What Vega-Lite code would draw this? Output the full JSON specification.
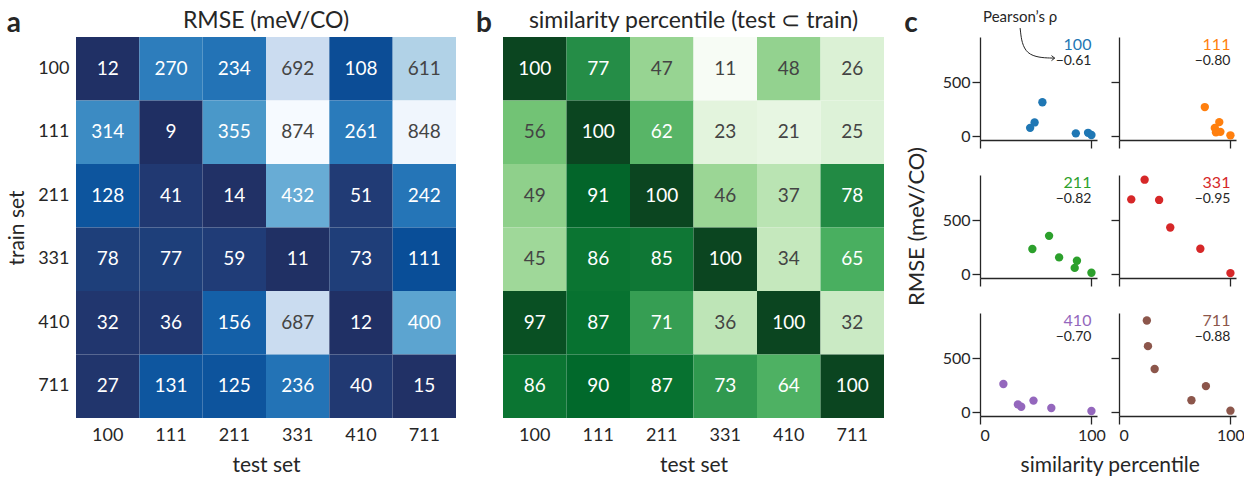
{
  "$schema": "https://vega.github.io/schema/vega-lite/v6.json",
  "padding": {"left": 6, "top": 10, "right": 0, "bottom": 0},
  "background": "white",
  "datasets": {
    "cells": [
      {"train": "100", "test": "100", "rmse": 12, "sim": 100},
      {"train": "100", "test": "111", "rmse": 270, "sim": 77},
      {"train": "100", "test": "211", "rmse": 234, "sim": 47},
      {"train": "100", "test": "331", "rmse": 692, "sim": 11},
      {"train": "100", "test": "410", "rmse": 108, "sim": 48},
      {"train": "100", "test": "711", "rmse": 611, "sim": 26},
      {"train": "111", "test": "100", "rmse": 314, "sim": 56},
      {"train": "111", "test": "111", "rmse": 9, "sim": 100},
      {"train": "111", "test": "211", "rmse": 355, "sim": 62},
      {"train": "111", "test": "331", "rmse": 874, "sim": 23},
      {"train": "111", "test": "410", "rmse": 261, "sim": 21},
      {"train": "111", "test": "711", "rmse": 848, "sim": 25},
      {"train": "211", "test": "100", "rmse": 128, "sim": 49},
      {"train": "211", "test": "111", "rmse": 41, "sim": 91},
      {"train": "211", "test": "211", "rmse": 14, "sim": 100},
      {"train": "211", "test": "331", "rmse": 432, "sim": 46},
      {"train": "211", "test": "410", "rmse": 51, "sim": 37},
      {"train": "211", "test": "711", "rmse": 242, "sim": 78},
      {"train": "331", "test": "100", "rmse": 78, "sim": 45},
      {"train": "331", "test": "111", "rmse": 77, "sim": 86},
      {"train": "331", "test": "211", "rmse": 59, "sim": 85},
      {"train": "331", "test": "331", "rmse": 11, "sim": 100},
      {"train": "331", "test": "410", "rmse": 73, "sim": 34},
      {"train": "331", "test": "711", "rmse": 111, "sim": 65},
      {"train": "410", "test": "100", "rmse": 32, "sim": 97},
      {"train": "410", "test": "111", "rmse": 36, "sim": 87},
      {"train": "410", "test": "211", "rmse": 156, "sim": 71},
      {"train": "410", "test": "331", "rmse": 687, "sim": 36},
      {"train": "410", "test": "410", "rmse": 12, "sim": 100},
      {"train": "410", "test": "711", "rmse": 400, "sim": 32},
      {"train": "711", "test": "100", "rmse": 27, "sim": 86},
      {"train": "711", "test": "111", "rmse": 131, "sim": 90},
      {"train": "711", "test": "211", "rmse": 125, "sim": 87},
      {"train": "711", "test": "331", "rmse": 236, "sim": 73},
      {"train": "711", "test": "410", "rmse": 40, "sim": 64},
      {"train": "711", "test": "711", "rmse": 15, "sim": 100}
    ],
    "rho": [
      {"test": "100", "rho": -0.61},
      {"test": "111", "rho": -0.80},
      {"test": "211", "rho": -0.82},
      {"test": "331", "rho": -0.95},
      {"test": "410", "rho": -0.70},
      {"test": "711", "rho": -0.88}
    ],
    "arrow": [
      {"step": 1, "sim": 36, "rmse": 1000},
      {"step": 2, "sim": 39, "rmse": 731},
      {"step": 3, "sim": 67, "rmse": 722}
    ]
  },
  "spacing": 20,
  "hconcat": [
    {
      "title": {"text": "a", "anchor": "start", "fontSize": 28, "fontWeight": "bold", "dy": 32, "dx": 0},
      "vconcat": [
        {
          "width": 380,
          "height": 381,
          "title": {"text": "RMSE (meV/CO)", "fontSize": 23, "fontWeight": "normal", "offset": 4},
          "data": {"name": "cells"},
          "encoding": {
            "x": {"field": "test", "type": "nominal", "sort": ["100", "111", "211", "331", "410", "711"],
                  "scale": {"paddingInner": 0, "paddingOuter": 0},
                  "axis": {"title": "test set", "labelAngle": 0, "ticks": false, "domain": false, "labelPadding": 8, "titlePadding": 10, "labelFontSize": 18, "titleFontSize": 21}},
            "y": {"field": "train", "type": "nominal", "sort": ["100", "111", "211", "331", "410", "711"],
                  "scale": {"paddingInner": 0, "paddingOuter": 0},
                  "axis": {"title": "train set", "ticks": false, "domain": false, "labelPadding": 7, "titlePadding": 10, "labelFontSize": 18, "titleFontSize": 21}}
          },
          "layer": [
            {
              "mark": {"type": "rect"},
              "encoding": {
                "color": {"field": "rmse", "type": "quantitative", "legend": null,
                  "scale": {"domain": [9, 14, 45, 78, 110, 156, 240, 355, 432, 611, 690, 874],
                            "range": ["#1f2f63", "#213166", "#213a74", "#1e3f7a", "#094e98", "#1460a8", "#2474b7", "#4a98c9", "#68acd5", "#b1d2e7", "#cbdcf0", "#f6faff"]}}
              }
            },
            {
              "mark": {"type": "text", "fontSize": 19},
              "encoding": {
                "text": {"field": "rmse", "type": "quantitative"},
                "color": {"condition": {"test": "datum.rmse < 500", "value": "#ffffff"}, "value": "#444444"}
              }
            }
          ]
        }
      ]
    },
    {
      "title": {"text": "b", "anchor": "start", "fontSize": 28, "fontWeight": "bold", "dy": 32, "dx": -27},
      "vconcat": [
        {
          "width": 381,
          "height": 381,
          "title": {"text": "similarity percentile (test ⊂ train)", "fontSize": 23, "fontWeight": "normal", "offset": 4},
          "data": {"name": "cells"},
          "encoding": {
            "x": {"field": "test", "type": "nominal", "sort": ["100", "111", "211", "331", "410", "711"],
                  "scale": {"paddingInner": 0, "paddingOuter": 0},
                  "axis": {"title": "test set", "labelAngle": 0, "ticks": false, "domain": false, "labelPadding": 8, "titlePadding": 10, "labelFontSize": 18, "titleFontSize": 21}},
            "y": {"field": "train", "type": "nominal", "sort": ["100", "111", "211", "331", "410", "711"],
                  "scale": {"paddingInner": 0, "paddingOuter": 0},
                  "axis": null}
          },
          "layer": [
            {
              "mark": {"type": "rect"},
              "encoding": {
                "color": {"field": "sim", "type": "quantitative", "legend": null,
                  "scale": {"domain": [11, 22.125, 33.25, 44.375, 55.5, 66.625, 77.75, 88.875, 100],
                            "range": ["#f7fcf5", "#e5f5e0", "#c7e9c0", "#a1d99b", "#74c476", "#41ab5d", "#238b45", "#006d2c", "#0b4520"]}}
              }
            },
            {
              "mark": {"type": "text", "fontSize": 19},
              "encoding": {
                "text": {"field": "sim", "type": "quantitative"},
                "color": {"condition": {"test": "datum.sim > 58", "value": "#ffffff"}, "value": "#444444"}
              }
            }
          ]
        }
      ]
    },
    {
      "title": {"text": "c", "anchor": "start", "fontSize": 28, "fontWeight": "bold", "dy": 32, "dx": -2},
      "vconcat": [
        {
          "title": {"text": "similarity percentile", "orient": "bottom", "fontSize": 21, "fontWeight": "normal", "anchor": "middle", "offset": 12, "dx": 35},
          "vconcat": [
            {
              "title": {"text": "RMSE (meV/CO)", "orient": "left", "fontSize": 22, "fontWeight": "normal", "anchor": "middle", "offset": 13},
              "columns": 2,
              "spacing": {"row": 26, "column": 4},
              "concat": [
                {
                  "width": 117, "height": 103,
                  "layer": [
                    {
                      "data": {"name": "cells"},
                      "transform": [{"filter": "datum.test === '100'"}],
                      "mark": {"type": "circle", "size": 70, "opacity": 1},
                      "encoding": {
                        "x": {"field": "sim", "type": "quantitative", "scale": {"domain": [0, 105], "nice": false, "zero": false},
                              "axis": {"values": [0, 100], "labels": false, "title": null, "tickSize": 8}},
                        "y": {"field": "rmse", "type": "quantitative", "scale": {"domain": [-34.25, 917.25], "nice": false, "zero": false},
                              "axis": {"values": [0, 500], "labels": true, "title": null, "tickSize": 8, "labelFontSize": 16, "labelPadding": 2}},
                        "color": {"field": "test", "type": "nominal", "legend": null,
                                  "scale": {"domain": ["100", "111", "211", "331", "410", "711"], "range": ["#1f77b4", "#ff7f0e", "#2ca02c", "#d62728", "#9467bd", "#8c564b"]}}
                      }
                    },
                    {
                      "data": {"name": "rho"},
                      "transform": [{"filter": "datum.test === '100'"}],
                      "mark": {"type": "text", "align": "right", "baseline": "top", "fontSize": 16},
                      "encoding": {
                        "x": {"datum": 100, "type": "quantitative"},
                        "y": {"datum": 917.25, "type": "quantitative"},
                        "text": {"field": "test"},
                        "color": {"field": "test", "type": "nominal", "legend": null,
                                  "scale": {"domain": ["100", "111", "211", "331", "410", "711"], "range": ["#1f77b4", "#ff7f0e", "#2ca02c", "#d62728", "#9467bd", "#8c564b"]}}
                      }
                    },
                    {
                      "data": {"name": "rho"},
                      "transform": [{"filter": "datum.test === '100'"}],
                      "mark": {"type": "text", "align": "right", "baseline": "top", "fontSize": 14, "dy": 17, "color": "#262626"},
                      "encoding": {
                        "x": {"datum": 100, "type": "quantitative"},
                        "y": {"datum": 917.25, "type": "quantitative"},
                        "text": {"field": "rho", "type": "quantitative", "format": ".2f"}
                      }
                    },
                    {
                      "data": {"name": "rho"},
                      "transform": [{"filter": "datum.test === '100'"}],
                      "mark": {"type": "text", "align": "center", "baseline": "middle", "fontSize": 15, "color": "#262626"},
                      "encoding": {
                        "x": {"datum": 36, "type": "quantitative"},
                        "y": {"datum": 1100, "type": "quantitative"},
                        "text": {"value": "Pearson’s ρ"}
                      }
                    },
                    {
                      "data": {"name": "arrow"},
                      "mark": {"type": "line", "interpolate": "basis", "color": "#262626", "strokeWidth": 1},
                      "encoding": {
                        "x": {"field": "sim", "type": "quantitative"},
                        "y": {"field": "rmse", "type": "quantitative"},
                        "order": {"field": "step", "type": "quantitative"}
                      }
                    },
                    {
                      "data": {"name": "arrow"},
                      "transform": [{"filter": "datum.step === 3"}],
                      "mark": {"type": "point", "shape": "M-1,-0.8L0,0L-1,0.8", "filled": false, "size": 40, "color": "#262626", "strokeWidth": 1, "opacity": 1},
                      "encoding": {
                        "x": {"field": "sim", "type": "quantitative"},
                        "y": {"field": "rmse", "type": "quantitative"}
                      }
                    }
                  ]
                },
                {
                  "width": 117, "height": 103,
                  "layer": [
                    {
                      "data": {"name": "cells"},
                      "transform": [{"filter": "datum.test === '111'"}],
                      "mark": {"type": "circle", "size": 70, "opacity": 1},
                      "encoding": {
                        "x": {"field": "sim", "type": "quantitative", "scale": {"domain": [0, 105], "nice": false, "zero": false},
                              "axis": {"values": [0, 100], "labels": false, "title": null, "tickSize": 8}},
                        "y": {"field": "rmse", "type": "quantitative", "scale": {"domain": [-34.25, 917.25], "nice": false, "zero": false},
                              "axis": {"values": [0, 500], "labels": false, "title": null, "tickSize": 8}},
                        "color": {"field": "test", "type": "nominal", "legend": null,
                                  "scale": {"domain": ["100", "111", "211", "331", "410", "711"], "range": ["#1f77b4", "#ff7f0e", "#2ca02c", "#d62728", "#9467bd", "#8c564b"]}}
                      }
                    },
                    {
                      "data": {"name": "rho"},
                      "transform": [{"filter": "datum.test === '111'"}],
                      "mark": {"type": "text", "align": "right", "baseline": "top", "fontSize": 16},
                      "encoding": {
                        "x": {"datum": 100, "type": "quantitative"},
                        "y": {"datum": 917.25, "type": "quantitative"},
                        "text": {"field": "test"},
                        "color": {"field": "test", "type": "nominal", "legend": null,
                                  "scale": {"domain": ["100", "111", "211", "331", "410", "711"], "range": ["#1f77b4", "#ff7f0e", "#2ca02c", "#d62728", "#9467bd", "#8c564b"]}}
                      }
                    },
                    {
                      "data": {"name": "rho"},
                      "transform": [{"filter": "datum.test === '111'"}],
                      "mark": {"type": "text", "align": "right", "baseline": "top", "fontSize": 14, "dy": 17, "color": "#262626"},
                      "encoding": {
                        "x": {"datum": 100, "type": "quantitative"},
                        "y": {"datum": 917.25, "type": "quantitative"},
                        "text": {"field": "rho", "type": "quantitative", "format": ".2f"}
                      }
                    }
                  ]
                },
                {
                  "width": 117, "height": 103,
                  "layer": [
                    {
                      "data": {"name": "cells"},
                      "transform": [{"filter": "datum.test === '211'"}],
                      "mark": {"type": "circle", "size": 70, "opacity": 1},
                      "encoding": {
                        "x": {"field": "sim", "type": "quantitative", "scale": {"domain": [0, 105], "nice": false, "zero": false},
                              "axis": {"values": [0, 100], "labels": false, "title": null, "tickSize": 8}},
                        "y": {"field": "rmse", "type": "quantitative", "scale": {"domain": [-34.25, 917.25], "nice": false, "zero": false},
                              "axis": {"values": [0, 500], "labels": true, "title": null, "tickSize": 8, "labelFontSize": 16, "labelPadding": 2}},
                        "color": {"field": "test", "type": "nominal", "legend": null,
                                  "scale": {"domain": ["100", "111", "211", "331", "410", "711"], "range": ["#1f77b4", "#ff7f0e", "#2ca02c", "#d62728", "#9467bd", "#8c564b"]}}
                      }
                    },
                    {
                      "data": {"name": "rho"},
                      "transform": [{"filter": "datum.test === '211'"}],
                      "mark": {"type": "text", "align": "right", "baseline": "top", "fontSize": 16},
                      "encoding": {
                        "x": {"datum": 100, "type": "quantitative"},
                        "y": {"datum": 917.25, "type": "quantitative"},
                        "text": {"field": "test"},
                        "color": {"field": "test", "type": "nominal", "legend": null,
                                  "scale": {"domain": ["100", "111", "211", "331", "410", "711"], "range": ["#1f77b4", "#ff7f0e", "#2ca02c", "#d62728", "#9467bd", "#8c564b"]}}
                      }
                    },
                    {
                      "data": {"name": "rho"},
                      "transform": [{"filter": "datum.test === '211'"}],
                      "mark": {"type": "text", "align": "right", "baseline": "top", "fontSize": 14, "dy": 17, "color": "#262626"},
                      "encoding": {
                        "x": {"datum": 100, "type": "quantitative"},
                        "y": {"datum": 917.25, "type": "quantitative"},
                        "text": {"field": "rho", "type": "quantitative", "format": ".2f"}
                      }
                    }
                  ]
                },
                {
                  "width": 117, "height": 103,
                  "layer": [
                    {
                      "data": {"name": "cells"},
                      "transform": [{"filter": "datum.test === '331'"}],
                      "mark": {"type": "circle", "size": 70, "opacity": 1},
                      "encoding": {
                        "x": {"field": "sim", "type": "quantitative", "scale": {"domain": [0, 105], "nice": false, "zero": false},
                              "axis": {"values": [0, 100], "labels": false, "title": null, "tickSize": 8}},
                        "y": {"field": "rmse", "type": "quantitative", "scale": {"domain": [-34.25, 917.25], "nice": false, "zero": false},
                              "axis": {"values": [0, 500], "labels": false, "title": null, "tickSize": 8}},
                        "color": {"field": "test", "type": "nominal", "legend": null,
                                  "scale": {"domain": ["100", "111", "211", "331", "410", "711"], "range": ["#1f77b4", "#ff7f0e", "#2ca02c", "#d62728", "#9467bd", "#8c564b"]}}
                      }
                    },
                    {
                      "data": {"name": "rho"},
                      "transform": [{"filter": "datum.test === '331'"}],
                      "mark": {"type": "text", "align": "right", "baseline": "top", "fontSize": 16},
                      "encoding": {
                        "x": {"datum": 100, "type": "quantitative"},
                        "y": {"datum": 917.25, "type": "quantitative"},
                        "text": {"field": "test"},
                        "color": {"field": "test", "type": "nominal", "legend": null,
                                  "scale": {"domain": ["100", "111", "211", "331", "410", "711"], "range": ["#1f77b4", "#ff7f0e", "#2ca02c", "#d62728", "#9467bd", "#8c564b"]}}
                      }
                    },
                    {
                      "data": {"name": "rho"},
                      "transform": [{"filter": "datum.test === '331'"}],
                      "mark": {"type": "text", "align": "right", "baseline": "top", "fontSize": 14, "dy": 17, "color": "#262626"},
                      "encoding": {
                        "x": {"datum": 100, "type": "quantitative"},
                        "y": {"datum": 917.25, "type": "quantitative"},
                        "text": {"field": "rho", "type": "quantitative", "format": ".2f"}
                      }
                    }
                  ]
                },
                {
                  "width": 117, "height": 103,
                  "layer": [
                    {
                      "data": {"name": "cells"},
                      "transform": [{"filter": "datum.test === '410'"}],
                      "mark": {"type": "circle", "size": 70, "opacity": 1},
                      "encoding": {
                        "x": {"field": "sim", "type": "quantitative", "scale": {"domain": [0, 105], "nice": false, "zero": false},
                              "axis": {"values": [0, 100], "labels": true, "title": null, "tickSize": 8, "labelFontSize": 16, "labelPadding": 3}},
                        "y": {"field": "rmse", "type": "quantitative", "scale": {"domain": [-34.25, 917.25], "nice": false, "zero": false},
                              "axis": {"values": [0, 500], "labels": true, "title": null, "tickSize": 8, "labelFontSize": 16, "labelPadding": 2}},
                        "color": {"field": "test", "type": "nominal", "legend": null,
                                  "scale": {"domain": ["100", "111", "211", "331", "410", "711"], "range": ["#1f77b4", "#ff7f0e", "#2ca02c", "#d62728", "#9467bd", "#8c564b"]}}
                      }
                    },
                    {
                      "data": {"name": "rho"},
                      "transform": [{"filter": "datum.test === '410'"}],
                      "mark": {"type": "text", "align": "right", "baseline": "top", "fontSize": 16},
                      "encoding": {
                        "x": {"datum": 100, "type": "quantitative"},
                        "y": {"datum": 917.25, "type": "quantitative"},
                        "text": {"field": "test"},
                        "color": {"field": "test", "type": "nominal", "legend": null,
                                  "scale": {"domain": ["100", "111", "211", "331", "410", "711"], "range": ["#1f77b4", "#ff7f0e", "#2ca02c", "#d62728", "#9467bd", "#8c564b"]}}
                      }
                    },
                    {
                      "data": {"name": "rho"},
                      "transform": [{"filter": "datum.test === '410'"}],
                      "mark": {"type": "text", "align": "right", "baseline": "top", "fontSize": 14, "dy": 17, "color": "#262626"},
                      "encoding": {
                        "x": {"datum": 100, "type": "quantitative"},
                        "y": {"datum": 917.25, "type": "quantitative"},
                        "text": {"field": "rho", "type": "quantitative", "format": ".2f"}
                      }
                    }
                  ]
                },
                {
                  "width": 117, "height": 103,
                  "layer": [
                    {
                      "data": {"name": "cells"},
                      "transform": [{"filter": "datum.test === '711'"}],
                      "mark": {"type": "circle", "size": 70, "opacity": 1},
                      "encoding": {
                        "x": {"field": "sim", "type": "quantitative", "scale": {"domain": [0, 105], "nice": false, "zero": false},
                              "axis": {"values": [0, 100], "labels": true, "title": null, "tickSize": 8, "labelFontSize": 16, "labelPadding": 3}},
                        "y": {"field": "rmse", "type": "quantitative", "scale": {"domain": [-34.25, 917.25], "nice": false, "zero": false},
                              "axis": {"values": [0, 500], "labels": false, "title": null, "tickSize": 8}},
                        "color": {"field": "test", "type": "nominal", "legend": null,
                                  "scale": {"domain": ["100", "111", "211", "331", "410", "711"], "range": ["#1f77b4", "#ff7f0e", "#2ca02c", "#d62728", "#9467bd", "#8c564b"]}}
                      }
                    },
                    {
                      "data": {"name": "rho"},
                      "transform": [{"filter": "datum.test === '711'"}],
                      "mark": {"type": "text", "align": "right", "baseline": "top", "fontSize": 16},
                      "encoding": {
                        "x": {"datum": 100, "type": "quantitative"},
                        "y": {"datum": 917.25, "type": "quantitative"},
                        "text": {"field": "test"},
                        "color": {"field": "test", "type": "nominal", "legend": null,
                                  "scale": {"domain": ["100", "111", "211", "331", "410", "711"], "range": ["#1f77b4", "#ff7f0e", "#2ca02c", "#d62728", "#9467bd", "#8c564b"]}}
                      }
                    },
                    {
                      "data": {"name": "rho"},
                      "transform": [{"filter": "datum.test === '711'"}],
                      "mark": {"type": "text", "align": "right", "baseline": "top", "fontSize": 14, "dy": 17, "color": "#262626"},
                      "encoding": {
                        "x": {"datum": 100, "type": "quantitative"},
                        "y": {"datum": 917.25, "type": "quantitative"},
                        "text": {"field": "rho", "type": "quantitative", "format": ".2f"}
                      }
                    }
                  ]
                }
              ]
            }
          ]
        }
      ]
    }
  ],
  "config": {
    "font": "Lato",
    "view": {"stroke": null},
    "axis": {"labelFont": "Lato", "titleFont": "Lato", "labelColor": "#262626", "titleColor": "#262626", "titleFontWeight": "normal", "grid": false, "domainColor": "#262626", "tickColor": "#262626", "domainWidth": 1.3, "tickWidth": 1.3},
    "title": {"font": "Lato", "color": "#262626"},
    "text": {"font": "Lato"}
  }
}
